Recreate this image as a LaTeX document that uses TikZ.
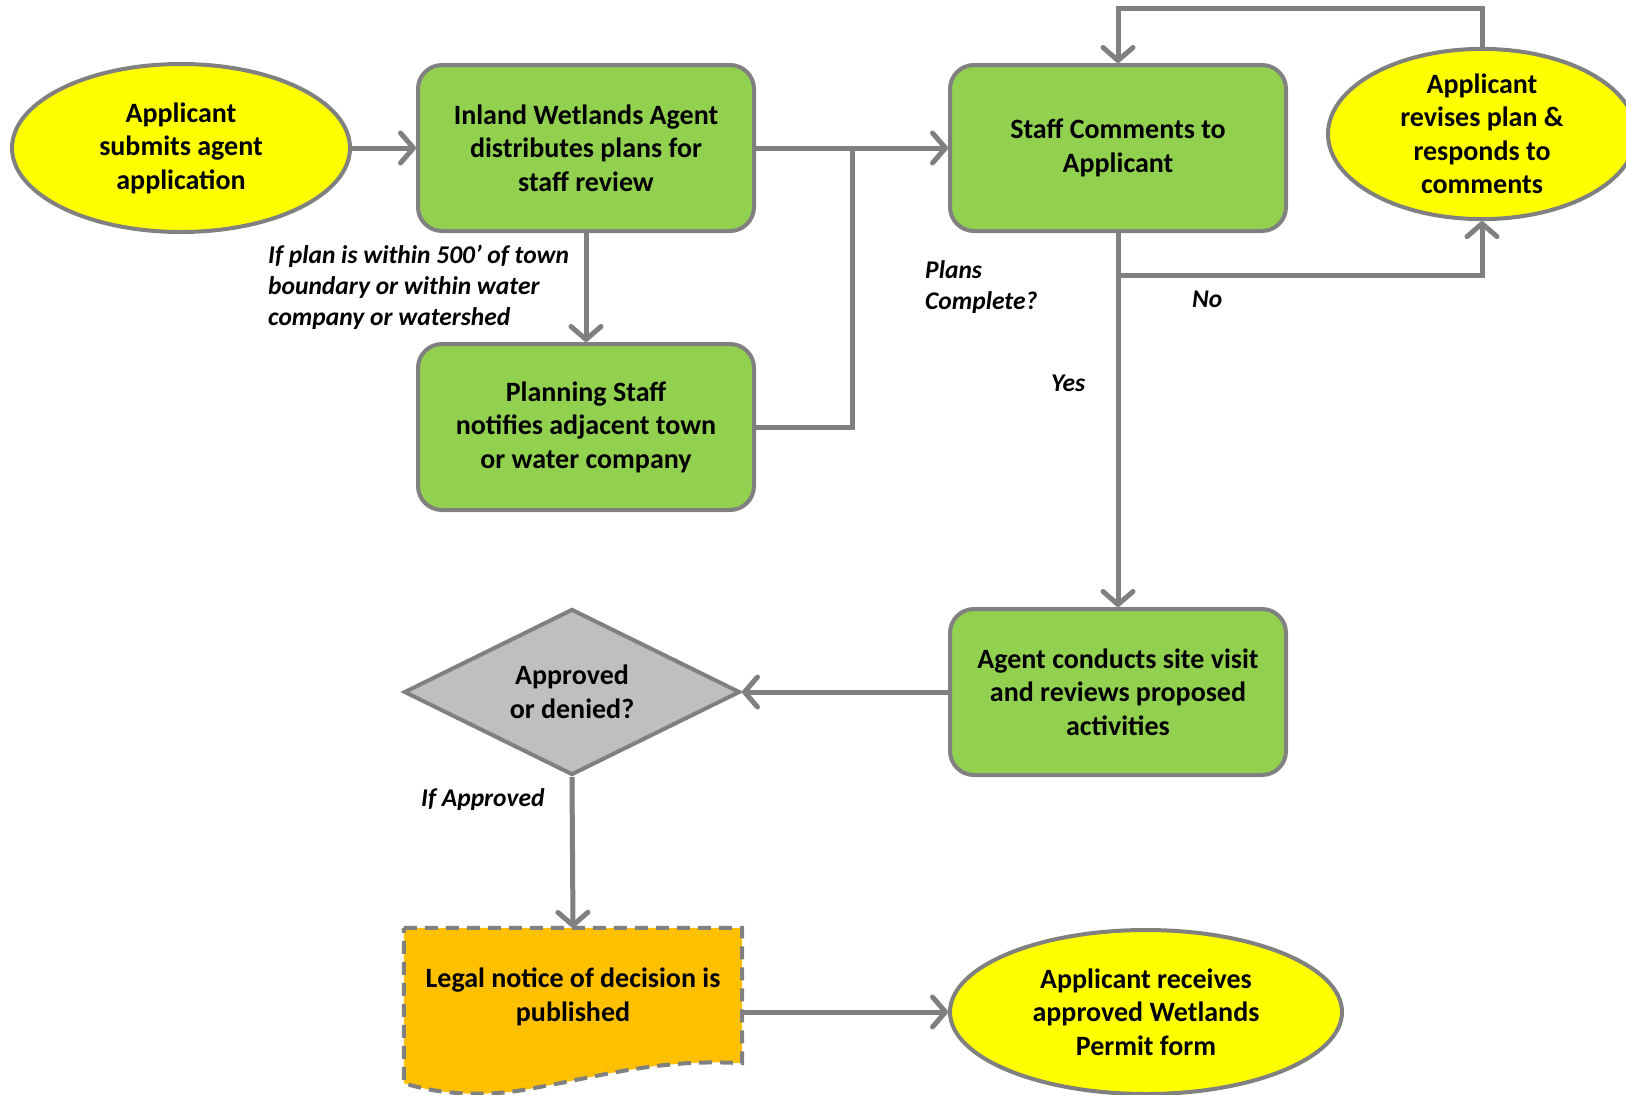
\documentclass[tikz,border=0pt]{standalone}
\usepackage{fontspec}
\setmainfont{Carlito}
\usetikzlibrary{shapes.geometric,arrows.meta}
\definecolor{lgreen}{HTML}{92D050}
\definecolor{yel}{HTML}{FFFF00}
\definecolor{gline}{HTML}{808080}
\definecolor{dgray}{HTML}{BFBFBF}
\definecolor{orng}{HTML}{FFC000}
\tikzset{
  txt/.style={font=\bfseries\fontsize{28}{33.5}\selectfont, align=center, text=black},
  oval/.style={txt, ellipse, draw=gline, line width=4pt, fill=yel, inner sep=0pt},
  gbox/.style={txt, rectangle, rounded corners=24pt, draw=gline, line width=4pt, fill=lgreen,
    minimum width=336pt, minimum height=166pt, inner sep=0pt},
  dia/.style={txt, diamond, draw=gline, line width=4pt, fill=dgray, aspect=2,
    minimum width=336pt, minimum height=166pt, inner sep=0pt},
  lbl/.style={font=\bfseries\itshape\fontsize{25.5}{31}\selectfont, align=left, anchor=west, inner sep=0pt},
  wire/.style={draw=gline, line width=5pt},
  conn/.style={wire, -{Straight Barb[length=13pt,width=30pt,round]}},
}
\begin{document}
\begin{tikzpicture}[x=1pt,y=-1pt]
\useasboundingbox[fill=white] (0,0) rectangle (1626,1095);

\node[oval, minimum width=338pt, minimum height=168pt] (app) at (181,148) {Applicant\\submits agent\\application};
\node[gbox] (dist) at (586,148) {Inland Wetlands Agent\\distributes plans for\\staff review};
\node[gbox] (plan) at (586,427) {Planning Staff\\notifies adjacent town\\or water company};
\node[gbox] (staff) at (1118,148) {Staff Comments to\\Applicant};
\node[oval, minimum width=308pt, minimum height=168pt] (rev) at (1482,134) {Applicant\\revises plan \&\\responds to\\comments};
\node[gbox] (site) at (1118,692) {Agent conducts site visit\\and reviews proposed\\activities};
\node[dia] (dec) at (572,692) {Approved\\or denied?};
\node[txt, minimum width=338pt, minimum height=135pt, inner sep=0pt] (legal) at (573,995.5) {};
\node[oval, minimum width=392pt, minimum height=164pt] (fin) at (1146,1012) {Applicant receives\\approved Wetlands\\Permit form};

% legal notice document shape
\draw[draw=gline, line width=4pt, fill=orng, dash pattern=on 13pt off 8pt]
  (legal.north west) -- (legal.north east) -- (legal.south east)
  .. controls (650,1058) and (590,1080) .. (510,1092)
  .. controls (460,1097) and (425,1090) .. (legal.west |- 0,1083) -- cycle;
\node[txt] at (573,997) {Legal notice of decision is\\published};

% connectors
\coordinate (j) at (852,148);
\coordinate (nb) at (1118,275);
\coordinate (tp) at (1118,8);
\draw[conn] (app) -- (dist);
\draw[conn] (dist.east) -- (staff.west);
\draw[wire] (plan.east) -| (j);
\draw[conn] (dist.south) -- (plan.north);
\draw[conn] (staff.south) -- (site.north);
\draw[conn] (nb) -| (rev.south);
\draw[conn] (rev.north) |- (tp) -- (staff.north);
\draw[conn] (site.west) -- (dec.east);
\draw[conn] (dec.south) -- (legal.north);
\draw[conn] (fin.west -| legal.east) -- (fin.west);

% labels
\node[lbl] (l1) at (268,287) {If plan is within 500’ of town\\boundary or within water\\company or watershed};
\node[lbl] (l2) at (925,287) {Plans\\Complete?};
\node[lbl] (l3) at (1192,299) {No};
\node[lbl] (l4) at (1051,383) {Yes};
\node[lbl] (l5) at (421,800) {If Approved};
\end{tikzpicture}
\end{document}
